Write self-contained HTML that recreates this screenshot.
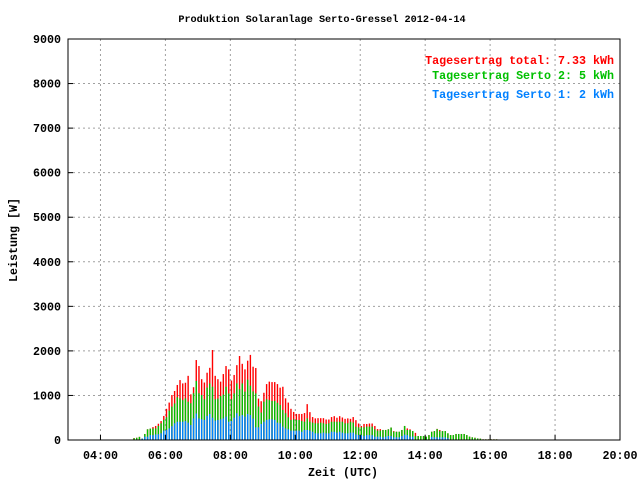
<!DOCTYPE html>
<html><head><meta charset="utf-8"><style>
html,body{margin:0;padding:0;background:#fff;}
svg{display:block;font-family:"Liberation Mono","DejaVu Sans Mono",monospace;font-weight:bold;}
</style></head><body>
<svg id="chart" width="640" height="480" viewBox="0 0 640 480">
<rect x="0" y="0" width="640" height="480" fill="#fff"/>
<text x="322" y="22" font-size="10.2" text-anchor="middle">Produktion Solaranlage Serto-Gressel 2012-04-14</text>
<g id="grid"></g>
<g id="bars"></g>
<rect x="68" y="39" width="552" height="401" fill="none" stroke="#000" stroke-width="1"/>
<g id="ticks"></g>
<text x="343" y="476" font-size="11.67" text-anchor="middle">Zeit (UTC)</text>
<text x="0" y="0" font-size="11.67" text-anchor="middle" transform="translate(17,240) rotate(-90)">Leistung [W]</text>
<g font-size="11.67" text-anchor="end">
<text x="614" y="64" fill="#ff0000">Tagesertrag total: 7.33 kWh</text>
<text x="614" y="79" fill="#00c000">Tagesertrag Serto 2: 5 kWh</text>
<text x="614" y="98" fill="#0080ff">Tagesertrag Serto 1: 2 kWh</text>
</g>
</svg>
<script>
const startMinutes = 302;
const stepMinutes = 5;
const totalW = [45,50,70,30,135,240,255,290,315,365,425,540,700,840,1010,1100,1235,1345,1270,1285,1440,1025,1185,1795,1660,1365,1290,1510,1620,2020,1440,1365,1310,1480,1660,1585,1335,1460,1680,1885,1710,1585,1780,1910,1645,1615,930,870,1060,1255,1310,1300,1300,1255,1175,1195,935,840,700,630,585,585,585,605,805,625,515,485,490,490,490,460,460,515,535,500,535,505,475,485,475,515,445,370,315,360,360,370,370,315,245,245,225,225,240,280,200,185,185,225,315,260,240,200,160,90,90,90,75,110,185,200,250,225,200,200,150,110,110,135,135,135,135,110,75,60,50,35,30,15,15,15,15,15,15];
const serto2TopW = [40,50,70,30,135,240,255,260,260,315,375,450,510,660,750,820,960,935,895,935,860,825,1050,1325,1050,1010,915,1175,1270,1195,915,930,985,1020,1195,1045,915,1045,1270,1140,1270,1085,1355,1220,1090,1045,750,615,860,915,895,875,875,835,785,675,600,510,450,465,450,450,425,410,485,410,390,375,375,390,375,360,375,410,410,410,410,410,375,375,410,390,300,285,285,285,300,300,300,240,210,210,225,225,240,280,185,185,185,225,315,225,225,200,90,90,90,90,75,110,185,200,245,200,200,200,150,110,110,135,135,135,135,110,75,60,50,35,30,15,15,15,15,15,15];
const serto1W = [0,0,0,30,75,75,110,110,125,130,150,210,225,260,310,375,410,410,410,425,390,335,485,595,485,465,450,540,585,500,435,450,465,485,525,410,425,500,600,535,560,525,585,560,480,285,285,360,410,450,465,465,450,390,375,300,260,240,210,210,210,210,185,225,225,210,185,150,150,150,165,150,150,185,185,165,185,165,150,150,165,165,125,110,110,90,110,110,110,75,75,75,60,75,90,90,60,60,60,90,120,110,75,75,0,0,0,0,0,0,70,60,60,60,60,60,40,0,0,0,0,0,0,0,0,0,0,0,0,0,0,0,0,0,0];
const xTickLabels = ["04:00","06:00","08:00","10:00","12:00","14:00","16:00","18:00","20:00"];
const yTickLabels = ["0","1000","2000","3000","4000","5000","6000","7000","8000","9000"];

const NS="http://www.w3.org/2000/svg";
const X0=68,X1=620,Y0=440,Y1=39;
function xOfMin(m){return X0+(m-180)/(17*60)*(X1-X0);}
function yOf(v){return Y0-v/9000*(Y0-Y1);}
const grid=document.getElementById('grid'),ticks=document.getElementById('ticks'),bars=document.getElementById('bars');
function mk(tag,attrs,parent){const e=document.createElementNS(NS,tag);for(const k in attrs)e.setAttribute(k,attrs[k]);parent.appendChild(e);return e;}
xTickLabels.forEach((lab)=>{
  const p=lab.split(':');const m=(+p[0])*60+(+p[1]);const x=xOfMin(m);
  const gl=mk('line',{x1:x,x2:x,y1:Y1,y2:Y0,stroke:'#a0a0a0','stroke-dasharray':'2,3'},grid);
  
  
  const tl=mk('line',{x1:x,x2:x,y1:Y0,y2:Y0-5,stroke:'#000'},ticks);
  
  
  const t=mk('text',{x:x,y:459,'font-size':'11.67','text-anchor':'middle'},ticks);
  t.textContent=lab;
  
  
});
yTickLabels.forEach((lab)=>{
  const y=yOf(+lab);
  if(+lab>0&&+lab<9000){
    const gl=mk('line',{x1:X0,x2:X1,y1:y,y2:y,stroke:'#a0a0a0','stroke-dasharray':'2,3'},grid);
    
    
  }
  const tl=mk('line',{x1:X0,x2:X0+5,y1:y,y2:y,stroke:'#000'},ticks);
  
  
  const t=mk('text',{x:61,y:y+4,'font-size':'11.67','text-anchor':'end'},ticks);
  t.textContent=lab;
  
  
});
totalW.forEach((tv,i)=>{
  const x=xOfMin(startMinutes+i*stepMinutes)-0.7,w=1.4;
  const r=mk('rect',{x:x,y:yOf(tv),width:w,height:Y0-yOf(tv),fill:'#ff0000'},bars);
  
  
  const g=mk('rect',{x:x,y:yOf(serto2TopW[i]),width:w,height:Y0-yOf(serto2TopW[i]),fill:'#00c000'},bars);
  
  
  const b=mk('rect',{x:x,y:yOf(serto1W[i]),width:w,height:Y0-yOf(serto1W[i]),fill:'#0080ff'},bars);
  
  
});
</script>
</body></html>
